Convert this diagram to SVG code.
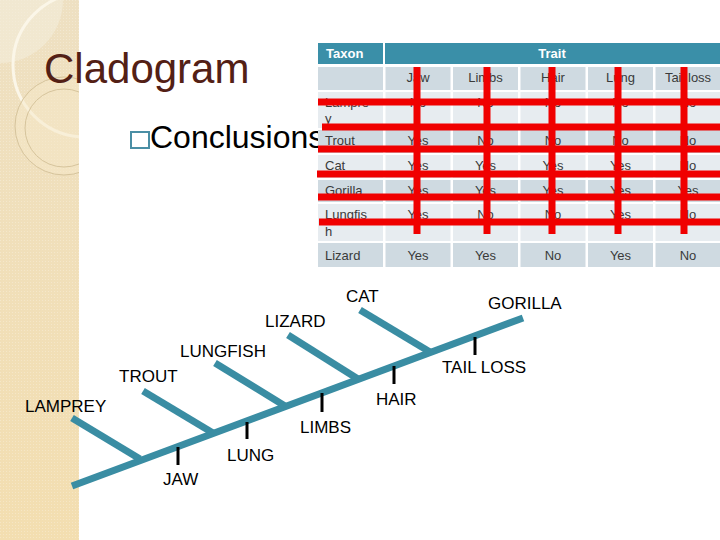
<svg xmlns="http://www.w3.org/2000/svg" width="720" height="540" viewBox="0 0 720 540">
  <defs>
    <linearGradient id="strip" x1="0" y1="0" x2="0" y2="1">
      <stop offset="0" stop-color="#eee0c2"/>
      <stop offset="1" stop-color="#f3deb0"/>
    </linearGradient>
    <pattern id="dots" width="3" height="3" patternUnits="userSpaceOnUse">
      <rect width="3" height="3" fill="none"/>
      <rect width="1" height="1" fill="#ffffff" fill-opacity="0.25"/>
    </pattern>
    <clipPath id="stripClip"><rect x="0" y="0" width="79" height="540"/></clipPath>
  </defs>
  <style>
    .hdr { fill: #3a8fa8; }
    .dk { fill: #cfdae1; }
    .lt { fill: #e7ecf0; }
    .hdrtxt { font-family: "Liberation Sans", Arial, sans-serif; font-size: 13px; font-weight: bold; fill: #ffffff; }
    .cell { font-family: "Liberation Sans", Arial, sans-serif; font-size: 13px; fill: #3a3a3a; }
    .c { text-anchor: middle; }
    .red { stroke: #f00000; stroke-width: 7; }
    .branch { stroke: #3a8da3; stroke-width: 7; fill: none; }
    .tick { stroke: #000000; stroke-width: 3; }
    .lbl { font-family: "Liberation Sans", Arial, sans-serif; font-size: 17px; fill: #000000; }
  </style>

  <rect x="0" y="0" width="720" height="540" fill="#ffffff"/>

  <!-- decorative left strip -->
  <g id="strip" clip-path="url(#stripClip)">
    <rect x="0" y="0" width="79" height="540" fill="url(#strip)"/>
    <rect x="0" y="0" width="79" height="540" fill="url(#dots)"/>
    <circle cx="0" cy="0" r="63" fill="#f3ecda" fill-opacity="0.6"/>
    <circle cx="85" cy="65" r="72" fill="none" stroke="#fbf6e8" stroke-width="3"/>
    <circle cx="64" cy="126" r="49" fill="#f5e8c8" fill-opacity="0.5" stroke="#d6c49c" stroke-width="1"/>
    <circle cx="64" cy="128" r="39" fill="none" stroke="#d6c49c" stroke-width="1"/>
  </g>

  <!-- title and bullet -->
  <g id="title">
    <text x="44" y="83" font-family="Liberation Sans, Arial, sans-serif" font-size="42" fill="#532015">Cladogram</text>
  </g>
  <g id="bullet">
    <rect x="131" y="132" width="18" height="16" fill="none" stroke="#4a8fa5" stroke-width="2"/>
    <text x="150" y="148" font-family="Liberation Sans, Arial, sans-serif" font-size="32" fill="#000000">Conclusions</text>
  </g>

  <!-- table -->
  <g id="table">
    <rect class="hdr" x="318" y="43" width="65" height="21"/>
    <rect class="hdr" x="385" y="43" width="335" height="21"/>
    <text class="hdrtxt" x="326" y="58">Taxon</text>
    <text class="hdrtxt c" x="552" y="58">Trait</text>

    <!-- subheader -->
    <g>
      <rect class="dk" x="318" y="67" width="65" height="23"/>
      <rect class="dk" x="385.5" y="67" width="65" height="23"/>
      <rect class="dk" x="453" y="67" width="65" height="23"/>
      <rect class="dk" x="520.5" y="67" width="65" height="23"/>
      <rect class="dk" x="588" y="67" width="65" height="23"/>
      <rect class="dk" x="655.5" y="67" width="64.5" height="23"/>
      <text class="cell c" x="418" y="82">Jaw</text>
      <text class="cell c" x="485.5" y="82">Limbs</text>
      <text class="cell c" x="553" y="82">Hair</text>
      <text class="cell c" x="620.5" y="82">Lung</text>
      <text class="cell c" x="688" y="82">Tail loss</text>
    </g>
    <!-- Lamprey -->
    <g>
      <rect class="lt" x="318" y="92" width="65" height="36"/>
      <rect class="lt" x="385.5" y="92" width="65" height="36"/>
      <rect class="lt" x="453" y="92" width="65" height="36"/>
      <rect class="lt" x="520.5" y="92" width="65" height="36"/>
      <rect class="lt" x="588" y="92" width="65" height="36"/>
      <rect class="lt" x="655.5" y="92" width="64.5" height="36"/>
      <text class="cell" x="325" y="107">Lampre</text>
      <text class="cell" x="325" y="123">y</text>
      <text class="cell c" x="418" y="107">No</text>
      <text class="cell c" x="485.5" y="107">No</text>
      <text class="cell c" x="553" y="107">No</text>
      <text class="cell c" x="620.5" y="107">No</text>
      <text class="cell c" x="688" y="107">No</text>
    </g>
    <!-- Trout -->
    <g>
      <rect class="dk" x="318" y="130" width="65" height="23"/>
      <rect class="dk" x="385.5" y="130" width="65" height="23"/>
      <rect class="dk" x="453" y="130" width="65" height="23"/>
      <rect class="dk" x="520.5" y="130" width="65" height="23"/>
      <rect class="dk" x="588" y="130" width="65" height="23"/>
      <rect class="dk" x="655.5" y="130" width="64.5" height="23"/>
      <text class="cell" x="325" y="145">Trout</text>
      <text class="cell c" x="418" y="145">Yes</text>
      <text class="cell c" x="485.5" y="145">No</text>
      <text class="cell c" x="553" y="145">No</text>
      <text class="cell c" x="620.5" y="145">No</text>
      <text class="cell c" x="688" y="145">No</text>
    </g>
    <!-- Cat -->
    <g>
      <rect class="lt" x="318" y="155" width="65" height="23"/>
      <rect class="lt" x="385.5" y="155" width="65" height="23"/>
      <rect class="lt" x="453" y="155" width="65" height="23"/>
      <rect class="lt" x="520.5" y="155" width="65" height="23"/>
      <rect class="lt" x="588" y="155" width="65" height="23"/>
      <rect class="lt" x="655.5" y="155" width="64.5" height="23"/>
      <text class="cell" x="325" y="170">Cat</text>
      <text class="cell c" x="418" y="170">Yes</text>
      <text class="cell c" x="485.5" y="170">Yes</text>
      <text class="cell c" x="553" y="170">Yes</text>
      <text class="cell c" x="620.5" y="170">Yes</text>
      <text class="cell c" x="688" y="170">No</text>
    </g>
    <!-- Gorilla -->
    <g>
      <rect class="dk" x="318" y="180" width="65" height="22"/>
      <rect class="dk" x="385.5" y="180" width="65" height="22"/>
      <rect class="dk" x="453" y="180" width="65" height="22"/>
      <rect class="dk" x="520.5" y="180" width="65" height="22"/>
      <rect class="dk" x="588" y="180" width="65" height="22"/>
      <rect class="dk" x="655.5" y="180" width="64.5" height="22"/>
      <text class="cell" x="325" y="195">Gorilla</text>
      <text class="cell c" x="418" y="195">Yes</text>
      <text class="cell c" x="485.5" y="195">Yes</text>
      <text class="cell c" x="553" y="195">Yes</text>
      <text class="cell c" x="620.5" y="195">Yes</text>
      <text class="cell c" x="688" y="195">Yes</text>
    </g>
    <!-- Lungfish -->
    <g>
      <rect class="lt" x="318" y="204" width="65" height="37"/>
      <rect class="lt" x="385.5" y="204" width="65" height="37"/>
      <rect class="lt" x="453" y="204" width="65" height="37"/>
      <rect class="lt" x="520.5" y="204" width="65" height="37"/>
      <rect class="lt" x="588" y="204" width="65" height="37"/>
      <rect class="lt" x="655.5" y="204" width="64.5" height="37"/>
      <text class="cell" x="325" y="219">Lungfis</text>
      <text class="cell" x="325" y="236">h</text>
      <text class="cell c" x="418" y="219">Yes</text>
      <text class="cell c" x="485.5" y="219">No</text>
      <text class="cell c" x="553" y="219">No</text>
      <text class="cell c" x="620.5" y="219">Yes</text>
      <text class="cell c" x="688" y="219">No</text>
    </g>
    <!-- Lizard -->
    <g>
      <rect class="dk" x="318" y="243" width="65" height="24"/>
      <rect class="dk" x="385.5" y="243" width="65" height="24"/>
      <rect class="dk" x="453" y="243" width="65" height="24"/>
      <rect class="dk" x="520.5" y="243" width="65" height="24"/>
      <rect class="dk" x="588" y="243" width="65" height="24"/>
      <rect class="dk" x="655.5" y="243" width="64.5" height="24"/>
      <text class="cell" x="325" y="260">Lizard</text>
      <text class="cell c" x="418" y="260">Yes</text>
      <text class="cell c" x="485.5" y="260">Yes</text>
      <text class="cell c" x="553" y="260">No</text>
      <text class="cell c" x="620.5" y="260">Yes</text>
      <text class="cell c" x="688" y="260">No</text>
    </g>
  </g>

  <!-- red grid overlay -->
  <g id="redgrid">
    <line class="red" x1="417" y1="67" x2="417" y2="234"/>
    <line class="red" x1="487" y1="67" x2="487" y2="234"/>
    <line class="red" x1="552" y1="67" x2="552" y2="234"/>
    <line class="red" x1="618" y1="67" x2="618" y2="234"/>
    <line class="red" x1="684" y1="67" x2="684" y2="234"/>
    <line class="red" x1="318" y1="102" x2="720" y2="102"/>
    <line class="red" x1="322" y1="127" x2="720" y2="127"/>
    <line class="red" x1="318" y1="149" x2="720" y2="149"/>
    <line class="red" x1="317" y1="174" x2="720" y2="174"/>
    <line class="red" x1="318" y1="197" x2="720" y2="197"/>
    <line class="red" x1="319" y1="222" x2="720" y2="222"/>
  </g>

  <!-- cladogram connectors -->
  <g id="connectors">
    <line class="branch" x1="72" y1="486" x2="523" y2="318"/>
    <line class="branch" x1="72" y1="418" x2="140" y2="459"/>
    <line class="branch" x1="143" y1="391" x2="213" y2="433"/>
    <line class="branch" x1="215" y1="363" x2="285" y2="406"/>
    <line class="branch" x1="288" y1="335" x2="358" y2="379"/>
    <line class="branch" x1="360" y1="310" x2="430" y2="352"/>
    <line class="tick" x1="178" y1="447" x2="178" y2="465"/>
    <line class="tick" x1="247" y1="422" x2="247" y2="439"/>
    <line class="tick" x1="322" y1="393" x2="322" y2="412"/>
    <line class="tick" x1="394" y1="366" x2="394" y2="384"/>
    <line class="tick" x1="475" y1="337" x2="475" y2="355"/>
  </g>

  <g id="lamprey"><text class="lbl" x="25" y="412">LAMPREY</text></g>
  <g id="trout"><text class="lbl" x="119" y="382">TROUT</text></g>
  <g id="lungfish"><text class="lbl" x="180" y="357">LUNGFISH</text></g>
  <g id="lizard"><text class="lbl" x="265" y="327">LIZARD</text></g>
  <g id="cat"><text class="lbl" x="346" y="302">CAT</text></g>
  <g id="gorilla"><text class="lbl" x="488" y="309">GORILLA</text></g>
  <g id="jaw"><text class="lbl" x="163" y="485">JAW</text></g>
  <g id="lung"><text class="lbl" x="227" y="461">LUNG</text></g>
  <g id="limbs"><text class="lbl" x="300" y="433">LIMBS</text></g>
  <g id="hair"><text class="lbl" x="376" y="405">HAIR</text></g>
  <g id="tailloss"><text class="lbl" x="442" y="373">TAIL LOSS</text></g>
</svg>
